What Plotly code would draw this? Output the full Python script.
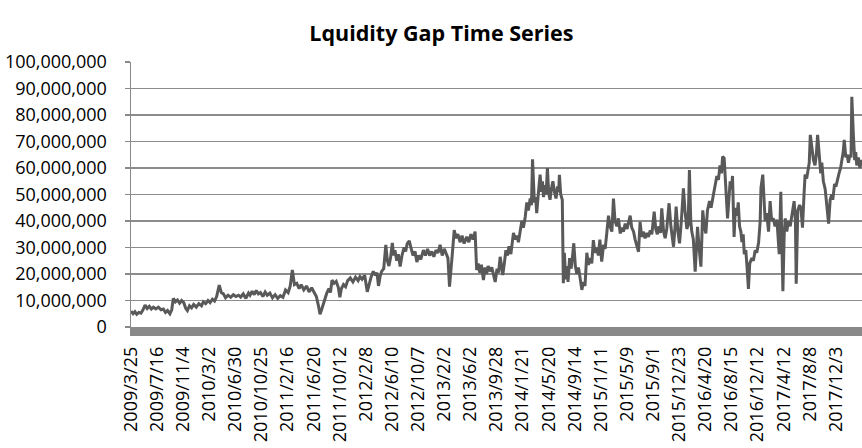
import plotly.graph_objects as go

# Tick labels of the category axis (one every label interval)
tick_labels = ["2009/3/25", "2009/7/16", "2009/11/4", "2010/3/2", "2010/6/30", "2010/10/25",
               "2011/2/16", "2011/6/20", "2011/10/12", "2012/2/8", "2012/6/10", "2012/10/7",
               "2013/2/2", "2013/6/2", "2013/9/28", "2014/1/21", "2014/5/20", "2014/9/14",
               "2015/1/11", "2015/5/9", "2015/9/1", "2015/12/23", "2016/4/20", "2016/8/15",
               "2016/12/12", "2017/4/12", "2017/8/8", "2017/12/3"]

# Position along the category axis (in label intervals) and liquidity gap (millions)
period_a = [0.00, 0.08, 0.15, 0.22, 0.30, 0.38, 0.46, 0.54, 0.62, 0.70, 0.78, 0.86, 0.95, 1.05, 1.15,
            1.24, 1.32, 1.40, 1.49, 1.56, 1.62, 1.70, 1.78, 1.86, 1.94, 2.02, 2.10, 2.16, 2.24, 2.32,
            2.40, 2.50, 2.60, 2.70, 2.77, 2.86, 2.95, 3.03, 3.12, 3.20, 3.28, 3.38, 3.46, 3.54, 3.62,
            3.72, 3.82, 3.92, 4.02, 4.12, 4.20]
gap_a = [6.0, 5.0, 5.8, 4.8, 5.5, 5.2, 6.5, 8.3, 7.0, 7.8, 6.8, 7.5, 6.8, 7.5, 6.5,
         6.8, 5.5, 6.2, 5.0, 6.5, 10.8, 9.5, 10.2, 9.0, 10.0, 9.2, 7.0, 6.2, 8.0, 7.2,
         8.5, 7.5, 8.8, 8.0, 9.5, 8.8, 10.0, 9.2, 10.5, 9.8, 11.5, 15.8, 13.0, 12.5, 11.0,
         12.0, 11.2, 12.2, 11.5, 12.0, 11.3]

period_b = [4.30, 4.40, 4.50, 4.56, 4.64, 4.72, 4.80, 4.88, 4.96, 5.05, 5.14, 5.22, 5.32, 5.42, 5.52,
            5.62, 5.72, 5.82, 5.92, 6.02, 6.10, 6.18, 6.26, 6.35, 6.44, 6.52, 6.62, 6.73, 6.82, 6.92,
            7.02, 7.10, 7.18, 7.24, 7.30, 7.37, 7.44, 7.50, 7.58, 7.64, 7.70, 7.78, 7.86, 7.94, 8.00,
            8.06, 8.14, 8.22, 8.30, 8.40, 8.50, 8.60, 8.70, 8.77]
gap_b = [12.5, 10.8, 12.8, 12.0, 13.5, 12.2, 13.8, 12.5, 13.0, 11.5, 13.2, 12.0, 12.8, 11.0, 12.2,
         10.8, 11.8, 11.2, 14.0, 13.0, 15.5, 21.5, 16.0, 16.5, 14.5, 16.0, 14.0, 15.5, 13.2, 14.8,
         12.8, 11.5, 8.0, 4.8, 6.5, 9.0, 11.0, 12.8, 14.5, 13.0, 17.7, 16.5, 17.2, 15.0, 11.2,
         14.5, 16.0, 15.2, 17.5, 18.5, 17.0, 18.8, 17.5, 19.0]

period_c = [8.85, 8.95, 9.05, 9.12, 9.20, 9.28, 9.36, 9.42, 9.48, 9.54, 9.60, 9.68, 9.76, 9.82, 9.88,
            9.94, 10.01, 10.06, 10.11, 10.18, 10.24, 10.31, 10.38, 10.46, 10.52, 10.58, 10.66, 10.72,
            10.80, 10.88, 10.95, 11.02, 11.10, 11.20, 11.28, 11.36, 11.44, 11.52, 11.60, 11.68, 11.76,
            11.84, 11.92, 12.00, 12.08, 12.14, 12.20, 12.26, 12.32, 12.38, 12.45, 12.52, 12.61, 12.68,
            12.76, 12.86, 12.94, 13.02, 13.10, 13.18, 13.24, 13.30, 13.36, 13.42, 13.50]
gap_c = [18.0, 19.5, 13.3, 16.0, 19.0, 21.0, 19.5, 20.5, 15.5, 19.0, 21.0, 22.0, 31.0, 25.0, 23.0,
         26.0, 31.7, 27.0, 29.0, 25.0, 27.5, 22.8, 27.0, 30.0, 28.5, 31.5, 32.5, 30.0,
         27.0, 28.5, 24.5, 27.0, 25.5, 29.0, 27.0, 29.5, 27.0, 28.5, 26.5, 29.0, 28.0,
         31.0, 27.0, 29.5, 27.5, 26.0, 15.2, 24.0, 29.0, 36.6, 33.5, 35.0, 32.0, 34.5,
         31.5, 34.0, 32.0, 35.0, 33.0, 36.0, 21.5, 24.0, 20.5, 23.5, 17.7]

period_d = [13.56, 13.62, 13.68, 13.75, 13.82, 13.88, 13.95, 14.02, 14.08, 14.14, 14.20, 14.24, 14.30,
            14.36, 14.42, 14.48, 14.55, 14.60, 14.65, 14.72, 14.78, 14.84, 14.90, 14.97, 15.03, 15.10,
            15.16, 15.22, 15.29, 15.34, 15.38, 15.42, 15.45, 15.50, 15.54, 15.60, 15.67, 15.72, 15.76,
            15.80, 15.86, 15.90, 15.95, 16.00, 16.05, 16.10, 16.16, 16.22, 16.28, 16.34, 16.38, 16.41,
            16.46, 16.52, 16.56, 16.60, 16.65, 16.70, 16.74, 16.80, 16.86, 16.92, 16.96, 17.02, 17.08,
            17.14, 17.20, 17.27, 17.33, 17.39, 17.46, 17.52, 17.59, 17.65, 17.71, 17.77, 17.84, 17.90,
            17.96, 18.03, 18.10, 18.16, 18.22, 18.29, 18.35]
gap_d = [22.5, 20.0, 23.0, 21.0, 22.5, 20.0, 17.0, 22.0, 20.5, 26.5, 22.0, 19.6, 24.0,
         29.0, 27.0, 30.5, 27.5, 31.0, 35.5, 33.0, 34.5, 32.0, 36.0, 40.0, 37.5, 41.5,
         47.0, 44.0, 48.5, 46.0, 63.3, 50.0, 47.0, 49.0, 43.0, 50.0, 57.5, 51.0, 55.0,
         49.0, 53.5, 50.0, 60.0, 50.5, 48.0, 52.0, 55.0, 51.0, 48.5, 53.0, 51.0, 57.4,
         50.0, 48.0, 16.5, 28.0, 18.0, 23.0, 17.0, 26.0, 22.0, 27.5, 31.6, 23.0, 20.0,
         22.5, 17.5, 14.0, 17.0, 15.5, 28.0, 23.5, 26.0, 24.0, 32.8, 28.0, 30.0, 27.0,
         33.0, 24.7, 31.0, 29.5, 35.0, 42.0, 38.0]

period_e = [18.42, 18.48, 18.54, 18.61, 18.67, 18.74, 18.80, 18.86, 18.93, 19.00, 19.06, 19.12, 19.18,
            19.25, 19.31, 19.37, 19.44, 19.50, 19.56, 19.62, 19.69, 19.76, 19.82, 19.89, 19.95, 20.04,
            20.10, 20.16, 20.22, 20.28, 20.33, 20.40, 20.46, 20.52, 20.61, 20.68, 20.74, 20.78, 20.84,
            20.88, 20.95, 21.01, 21.08, 21.16, 21.22, 21.29, 21.34, 21.39, 21.44, 21.48, 21.54, 21.61,
            21.66, 21.70, 21.76, 21.83, 21.90, 21.96, 22.02, 22.08, 22.16, 22.22, 22.31, 22.38, 22.44,
            22.50, 22.56, 22.62, 22.66, 22.72, 22.77, 22.80, 22.85, 22.90, 22.95, 23.00, 23.04]
gap_e = [36.0, 48.5, 40.0, 38.0, 41.0, 35.3, 37.5, 36.0, 39.0, 37.0, 40.0, 42.0, 37.5,
         36.0, 33.0, 31.0, 28.4, 39.7, 34.0, 36.0, 33.5, 35.5, 34.0, 36.5, 35.0, 43.5,
         37.0, 35.0, 38.0, 35.5, 44.8, 36.0, 33.5, 37.0, 46.7, 38.0, 34.0, 30.3, 38.0,
         45.4, 36.0, 31.6, 40.0, 52.3, 44.0, 37.0, 38.5, 59.2, 40.0, 36.0, 33.0, 20.9,
         30.0, 37.8, 30.0, 22.8, 44.0, 38.0, 35.3, 44.0, 47.5, 45.0, 50.0, 53.5, 57.0,
         55.5, 61.0, 58.0, 64.3, 63.7, 55.0, 46.0, 41.0, 48.0, 55.0, 52.0, 57.0]

period_f = [23.10, 23.15, 23.21, 23.26, 23.31, 23.36, 23.40, 23.45, 23.49, 23.55, 23.60, 23.65, 23.70,
            23.78, 23.84, 23.91, 23.97, 24.04, 24.10, 24.13, 24.20, 24.25, 24.29, 24.35, 24.42, 24.48,
            24.54, 24.60, 24.67, 24.74, 24.83, 24.89, 24.93, 24.97, 25.02, 25.06, 25.12, 25.18, 25.25,
            25.32, 25.40, 25.45, 25.48, 25.54, 25.61, 25.66, 25.72, 25.78, 25.82, 25.88, 25.93, 25.98,
            26.02, 26.08, 26.14, 26.20, 26.25, 26.30, 26.36, 26.42, 26.46, 26.52, 26.59, 26.66, 26.72,
            26.78, 26.84, 26.88, 26.95, 27.00, 27.06, 27.12, 27.18, 27.23, 27.28, 27.32, 27.38, 27.43,
            27.48, 27.54, 27.58, 27.61, 27.65, 27.67, 27.72, 27.76, 27.80, 27.86, 27.92, 27.98, 28.00]
gap_f = [34.0, 45.0, 42.0, 47.0, 38.0, 36.0, 32.0, 35.0, 27.5, 29.0, 22.0, 14.4, 24.0,
         26.0, 25.0, 29.0, 28.0, 32.0, 40.0, 52.5, 57.5, 45.0, 40.0, 43.0, 36.0, 47.5,
         40.0, 41.0, 38.0, 40.5, 27.5, 51.0, 35.0, 13.5, 35.0, 41.0, 36.0, 40.0, 38.0,
         42.0, 47.5, 40.0, 16.3, 44.0, 46.0, 45.0, 37.5, 50.0, 57.5, 56.0, 60.0, 62.0,
         72.5, 68.0, 63.0, 61.0, 65.0, 72.5, 65.0, 58.0, 62.0, 55.0, 52.0, 45.0, 39.0,
         48.0, 50.0, 48.0, 54.0, 53.0, 56.0, 58.0, 60.0, 63.0, 66.0, 70.6, 64.0, 65.0,
         62.0, 65.0, 64.0, 86.9, 75.0, 72.5, 63.0, 66.0, 61.0, 64.0, 60.0, 63.0, 62.0]

period = period_a + period_b + period_c + period_d + period_e + period_f
gap_millions = gap_a + gap_b + gap_c + gap_d + gap_e + gap_f
assert len(period) == len(gap_millions)
gap = [v * 1e6 for v in gap_millions]

AXIS_GRAY = "#898989"
FONT = "Open Sans"

fig = go.Figure()
fig.add_trace(go.Scatter(
    x=period, y=gap, mode="lines",
    line=dict(color="#595959", width=3),
    showlegend=False, hoverinfo="skip",
))

fig.update_layout(
    width=862, height=448,
    margin=dict(l=131, r=0, t=62, b=121, autoexpand=False),
    paper_bgcolor="white", plot_bgcolor="white",
    font=dict(family=FONT, size=18, color="black"),
    title=dict(text="<b>Lquidity Gap Time Series</b>", x=0.512, xref="container",
               xanchor="center", y=0.926, yref="container", yanchor="middle",
               font=dict(family=FONT, size=21.5, color="black")),
)
fig.update_xaxes(
    range=[0, 28],
    tickmode="array", tickvals=list(range(len(tick_labels))), ticktext=tick_labels,
    tickangle=-90, tickfont=dict(family=FONT, size=18, color="black"),
    ticks="outside", ticklen=7, tickwidth=1.5, tickcolor=AXIS_GRAY,
    minor=dict(ticks="outside", ticklen=7, tickwidth=1.5, tickcolor=AXIS_GRAY,
               dtick=0.05, showgrid=False),
    showgrid=False, zeroline=False,
    showline=True, linecolor=AXIS_GRAY, linewidth=1.5,
    ticklabelstandoff=4,
)
fig.update_yaxes(
    range=[0, 1e8], dtick=1e7, tick0=0, tickformat=",",
    tickfont=dict(family=FONT, size=18, color="black"),
    showgrid=True, gridcolor="#8c8c8c", gridwidth=1.5,
    zeroline=False,
    showline=True, linecolor=AXIS_GRAY, linewidth=1.5,
    ticks="outside", ticklen=5, tickwidth=1.5, tickcolor=AXIS_GRAY,
    ticklabelstandoff=14,
)

fig.write_html("out.html",
               config={"displayModeBar": False, "staticPlot": True},
               post_script="document.body.style.margin='0';document.body.style.overflow='hidden';")
